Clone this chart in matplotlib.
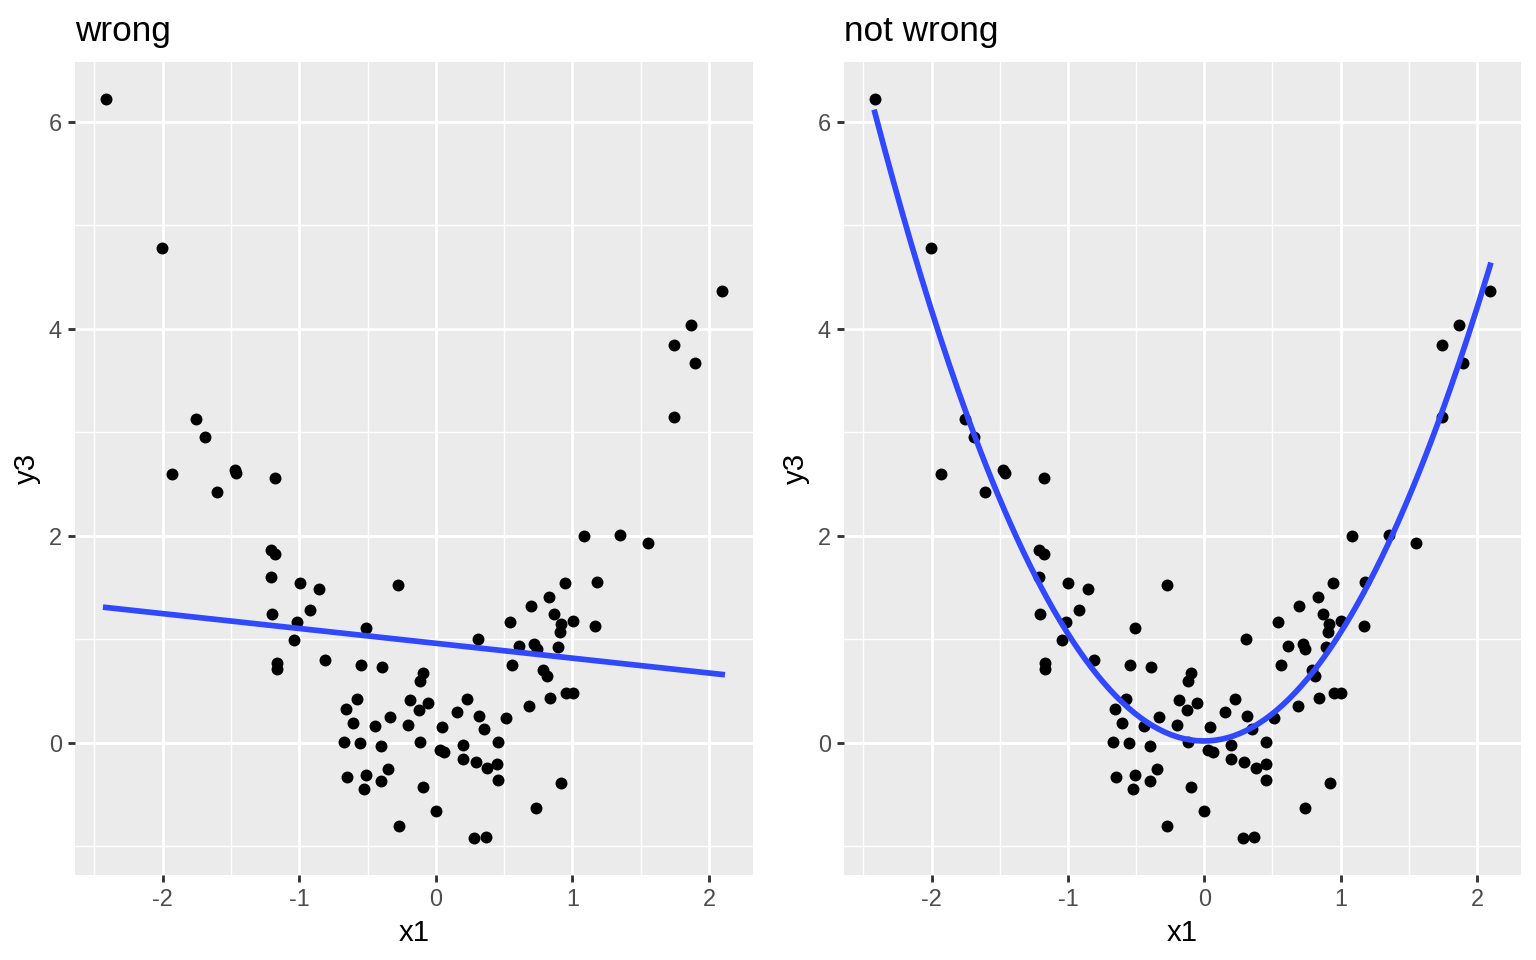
import numpy as np
import matplotlib
matplotlib.use("Agg")
import matplotlib.pyplot as plt

# points (x1, y3)
x1 = [-2.417, -2.007, -1.758, -1.693, -1.934, -1.473, -1.462, -1.605, -1.174, -1.210,
      -1.174, -1.210, -0.998, -0.852, -0.274, -1.203, -0.918, -1.013, -0.508, -1.042,
      0.306, 0.540, 0.613, -1.166, -1.166, -0.808, -0.547, -0.391, 0.559, -0.094,
      -0.118, -0.576, -0.657, -0.186, -0.055, -0.126, 0.228, -0.603, -0.442, -0.333,
      -0.201, 0.045, 0.155, 0.313, 0.350, 0.513, -0.669, -0.554, -0.399, -0.116,
      0.028, 0.062, 0.199, 0.455, 0.196, 0.294, 0.377, 0.450, 0.452, -0.347,
      -0.508, -0.649, -0.399, -0.523, -0.094, 0.001, -0.272, 0.282, 0.367, 1.086,
      1.352, 1.552, 0.945, 1.179, 0.832, 0.698, 0.869, 0.916, 1.005, 1.169,
      0.908, 0.722, 0.740, 0.893, 0.788, 0.813, 0.840, 0.684, 0.954, 1.003,
      0.920, 0.737, 2.097, 1.871, 1.742, 1.895, 1.744]
y3 = [6.220, 4.775, 3.125, 2.952, 2.595, 2.633, 2.604, 2.421, 2.556, 1.862,
      1.823, 1.601, 1.543, 1.485, 1.521, 1.244, 1.283, 1.167, 1.112, 0.994,
      0.997, 1.170, 0.929, 0.772, 0.714, 0.801, 0.752, 0.733, 0.746, 0.668,
      0.595, 0.424, 0.325, 0.412, 0.379, 0.318, 0.418, 0.193, 0.157, 0.251,
      0.171, 0.151, 0.292, 0.257, 0.132, 0.238, 0.010, -0.006, -0.035, 0.003,
      -0.074, -0.093, -0.022, 0.003, -0.161, -0.190, -0.248, -0.209, -0.360, -0.251,
      -0.312, -0.328, -0.376, -0.444, -0.431, -0.666, -0.810, -0.923, -0.910, 1.997,
      2.003, 1.929, 1.540, 1.550, 1.405, 1.318, 1.241, 1.145, 1.177, 1.129,
      1.068, 0.955, 0.907, 0.919, 0.697, 0.646, 0.434, 0.354, 0.476, 0.482,
      -0.395, -0.637, 4.363, 4.039, 3.846, 3.672, 3.142]

titles = ["wrong", "not wrong"]
fit_degree = [1, 2]
x_ticks = [-2, -1, 0, 1, 2]
y_ticks = [0, 2, 4, 6]

plt.rcParams["font.family"] = ["Liberation Sans", "DejaVu Sans"]
plt.rcParams["axes.unicode_minus"] = False

x = np.array(x1)
y = np.array(y3)

fig = plt.figure(figsize=(8, 5), dpi=192)
panels = [[0.0488, 0.0885, 0.4414, 0.8469], [0.5495, 0.0885, 0.4407, 0.8469]]

xpad = (x.max() - x.min()) * 0.05
ypad = (y.max() - y.min()) * 0.05

for pos, title, deg in zip(panels, titles, fit_degree):
    ax = fig.add_axes(pos)
    ax.set_facecolor("#EBEBEB")
    for s in ax.spines.values():
        s.set_visible(False)

    ax.set_xlim(x.min() - xpad, x.max() + xpad)
    ax.set_ylim(y.min() - ypad, y.max() + ypad)
    ax.set_xticks(x_ticks)
    ax.set_yticks(y_ticks)
    ax.set_xticks([-2.5] + list(np.array(x_ticks[:-1]) + 0.5), minor=True)
    ax.set_yticks([-1, 1, 3, 5], minor=True)
    ax.grid(True, which="major", color="white", linewidth=1.07)
    ax.grid(True, which="minor", color="white", linewidth=0.53)
    ax.set_axisbelow(True)
    ax.tick_params(which="major", length=2.75, width=1.07, color="#333333",
                   labelsize=8.8, labelcolor="#4D4D4D", pad=2.2)
    ax.tick_params(which="minor", length=0)

    ax.scatter(x, y, s=20, color="black", linewidths=0, zorder=3)

    # fitted curve, like geom_smooth(method = "lm")
    coef = np.polyfit(x, y, deg)
    xs = np.linspace(x.min(), x.max(), 200)
    ax.plot(xs, np.polyval(coef, xs), color="#3048FF", linewidth=2.13, zorder=4)

    ax.set_xlabel("x1", fontsize=11, labelpad=2.75)
    ax.set_ylabel("y3", fontsize=11, labelpad=2.75)
    ax.set_title(title, loc="left", fontsize=13.2, pad=8)

fig.savefig("out.png", dpi=192)
